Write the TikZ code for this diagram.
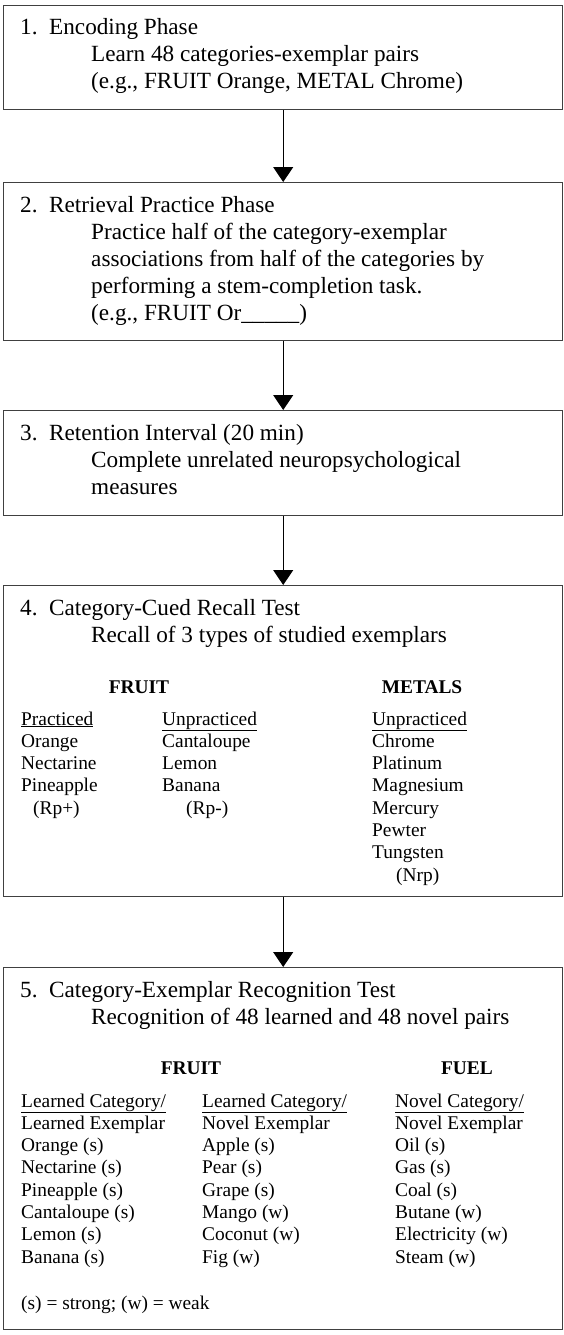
\documentclass[tikz,border=0pt]{standalone}
\usepackage{fontspec}
\setmainfont{Liberation Serif}
\usetikzlibrary{arrows.meta}

\tikzset{
  caja/.style={draw=black!75, line width=1.4pt, minimum width=559pt, anchor=north west, inner sep=0pt},
  texto/.style={anchor=base west, inner sep=0pt, font=\fontsize{23.2}{27}\selectfont},
  tabla/.style={anchor=base west, inner sep=0pt, font=\fontsize{19.4}{22.3}\selectfont},
  titulo/.style={anchor=base, inner sep=0pt, font=\fontsize{19.4}{22.3}\selectfont\bfseries},
  flecha/.style={->, line width=1pt, black},
}

\begin{document}
\begin{tikzpicture}[x=1pt, y=-1pt, >={Triangle[width=20pt,length=15pt]}]
  \def\xn{20}
  \def\xs{91}
  \def\lin{27}
  \def\fil{22.3}
  \useasboundingbox (0,0) rectangle (563,1335);

  % Cajas
  \node[caja, minimum height=104pt] (c1) at (3,5) {};
  \node[caja, minimum height=158pt] (c2) at (3,182) {};
  \node[caja, minimum height=105pt] (c3) at (3,410) {};
  \node[caja, minimum height=311pt] (c4) at (3,585) {};
  \node[caja, minimum height=362pt] (c5) at (3,967) {};

  % Flechas
  \draw[flecha] (c1.south) -- (c2.north);
  \draw[flecha] (c2.south) -- (c3.north);
  \draw[flecha] (c3.south) -- (c4.north);
  \draw[flecha] (c4.south) -- (c5.north);

  % 1. Codificacion
  \node[texto] (t1) at (\xn,35) {\makebox[29pt][l]{1.}Encoding Phase};
  \foreach \t [count=\i] in {Learn 48 categories-exemplar pairs, {(e.g., FRUIT Orange, METAL Chrome)}}
    \node[texto] (t1l\i) at (\xs,{35+\i*\lin}) {\t};

  % 2. Practica
  \node[texto] (t2) at (\xn,212) {\makebox[29pt][l]{2.}Retrieval Practice Phase};
  \foreach \t [count=\i] in {Practice half of the category-exemplar, associations from half of the categories by,
      performing a stem-completion task., {(e.g., FRUIT Or\_\_\_\_\_)}}
    \node[texto] (t2l\i) at (\xs,{212+\i*\lin}) {\t};

  % 3. Intervalo
  \node[texto] (t3) at (\xn,440) {\makebox[29pt][l]{3.}Retention Interval (20 min)};
  \foreach \t [count=\i] in {Complete unrelated neuropsychological, measures}
    \node[texto] (t3l\i) at (\xs,{440+\i*\lin}) {\t};

  % 4. Recuerdo
  \node[texto] (t4) at (\xn,615) {\makebox[29pt][l]{4.}Category-Cued Recall Test};
  \node[texto] (t4l1) at (\xs,642) {Recall of 3 types of studied exemplars};
  \node[titulo] (fruta4) at (139,693) {FRUIT};
  \node[titulo] (metal4) at (422,693) {METALS};
  \foreach \t [count=\i from 0] in {\underline{Practiced}, Orange, Nectarine, Pineapple}
    \node[tabla] (pr\i) at (21,{725+\i*\fil}) {\t};
  \node[tabla] (rpmas) at (33,{725+4*\fil}) {(Rp+)};
  \foreach \t [count=\i from 0] in {\underline{Unpracticed}, Cantaloupe, Lemon, Banana}
    \node[tabla] (np\i) at (162,{725+\i*\fil}) {\t};
  \node[tabla] (rpmenos) at (186,{725+4*\fil}) {(Rp-)};
  \foreach \t [count=\i from 0] in {\underline{Unpracticed}, Chrome, Platinum, Magnesium, Mercury, Pewter, Tungsten}
    \node[tabla] (me\i) at (372,{725+\i*\fil}) {\t};
  \node[tabla] (nrp) at (396,{725+7*\fil}) {(Nrp)};

  % 5. Reconocimiento
  \node[texto] (t5) at (\xn,997) {\makebox[29pt][l]{5.}Category-Exemplar Recognition Test};
  \node[texto] (t5l1) at (\xs,1024) {Recognition of 48 learned and 48 novel pairs};
  \node[titulo] (fruta5) at (191,1074) {FRUIT};
  \node[titulo] (fuel5) at (467,1074) {FUEL};
  \foreach \t [count=\i from 0] in {\underline{Learned Category/}, Learned Exemplar, Orange (s), Nectarine (s),
      Pineapple (s), Cantaloupe (s), Lemon (s), Banana (s)}
    \node[tabla] (la\i) at (21,{1107+\i*\fil}) {\t};
  \foreach \t [count=\i from 0] in {\underline{Learned Category/}, Novel Exemplar, Apple (s), Pear (s),
      Grape (s), Mango (w), Coconut (w), Fig (w)}
    \node[tabla] (lb\i) at (202,{1107+\i*\fil}) {\t};
  \foreach \t [count=\i from 0] in {\underline{Novel Category/}, Novel Exemplar, Oil (s), Gas (s),
      Coal (s), Butane (w), Electricity (w), Steam (w)}
    \node[tabla] (lc\i) at (395,{1107+\i*\fil}) {\t};
  \node[tabla] (nota) at (21,1309) {(s) = strong; (w) = weak};
\end{tikzpicture}
\end{document}
